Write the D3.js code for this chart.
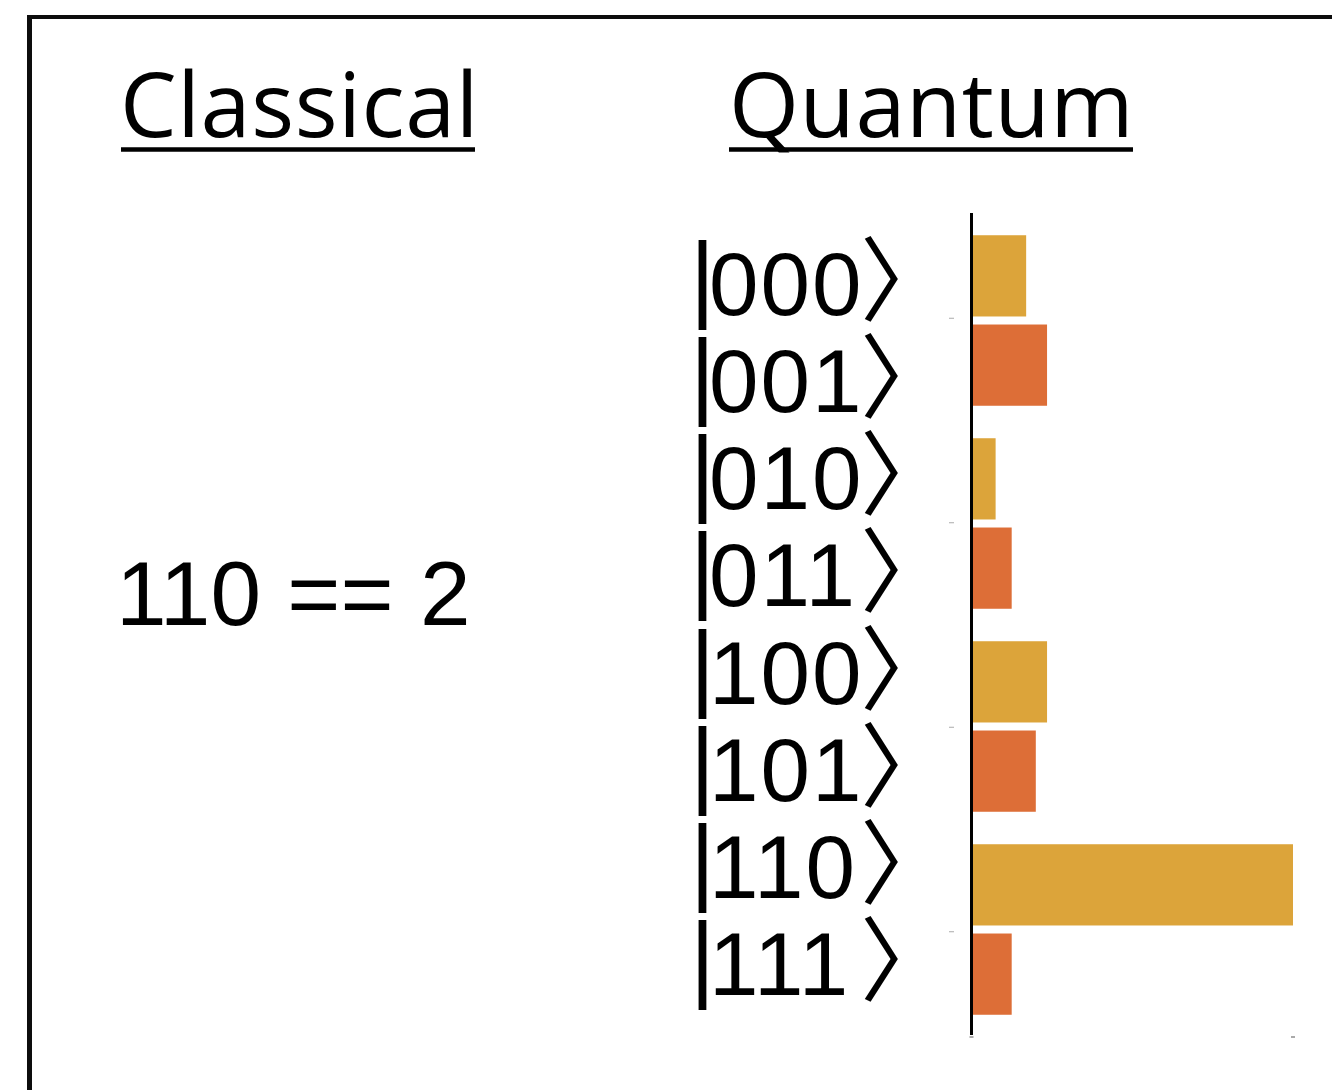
<!DOCTYPE html>
<html>
<head>
<meta charset="utf-8">
<script src="https://cdn.jsdelivr.net/npm/d3@7"></script>
<style>
  html, body { margin: 0; padding: 0; background: #fff; }
  svg { display: block; }
</style>
</head>
<body>
<svg id="chart" width="1332" height="1090"></svg>
<script>
// Basis states of a 3-qubit register and their (relative) amplitudes
const states = ["000", "001", "010", "011", "100", "101", "110", "111"];
const amplitudes = [0.17, 0.235, 0.075, 0.125, 0.235, 0.2, 1.0, 0.125];

// States are grouped by their first two bits; the last bit picks the colour
const groups = ["00", "01", "10", "11"];
const lastBits = ["0", "1"];
const bitColors = ["#dca43a", "#dd6e37"];

// Amplitude axis ticks
const xTicks = [0, 1];

// Text
const headings = ["Classical", "Quantum"];
const classicalValue = "110 == 2";

const svg = d3.select("#chart");

// ---- frame ----
svg.append("rect").attr("x", 27).attr("y", 15).attr("width", 5).attr("height", 1075).attr("fill", "#0d0d0d");
svg.append("rect").attr("x", 27).attr("y", 15).attr("width", 1305).attr("height", 4).attr("fill", "#0d0d0d");

// ---- headings (underlined) ----
const headingPos = [
  { x: 120, x0: 121, x1: 475 },
  { x: 729, x0: 729, x1: 1133 }
];
headings.forEach((h, i) => {
  svg.append("text")
    .attr("x", headingPos[i].x)
    .attr("y", 137)
    .style("font-family", "'Open Sans', 'Noto Sans', sans-serif")
    .style("font-size", "90px")
    .style("letter-spacing", "0.6px")
    .attr("fill", "#000")
    .text(h);
  svg.append("line")
    .attr("x1", headingPos[i].x0).attr("x2", headingPos[i].x1)
    .attr("y1", 149.5).attr("y2", 149.5)
    .attr("stroke", "#000").attr("stroke-width", 4.5);
});

// ---- classical value ----
svg.append("text")
  .attr("x", 116)
  .attr("y", 625)
  .style("font-family", "'Liberation Sans', Arial, sans-serif")
  .style("font-size", "91px")
  .style("word-spacing", "1px")
  .attr("fill", "#000")
  .text(classicalValue);

// ---- scales ----
const x = d3.scaleLinear().domain([0, 1]).range([971.5, 1293]);

const yGroup = d3.scaleBand().domain(groups).range([219, 1031])
  .paddingInner(0.16).paddingOuter(0.08);
const yBit = d3.scaleBand().domain(lastBits).range([0, yGroup.bandwidth()])
  .paddingInner(0.09);
const yTick = d3.scaleBand().domain(groups).range([216, 1034]);
const yLabel = d3.scalePoint().domain(states).range([283, 963]);

const color = d3.scaleOrdinal().domain(lastBits).range(bitColors);

const rows = states.map((s, i) => ({
  state: s,
  group: s.slice(0, 2),
  bit: s.slice(2),
  value: amplitudes[i]
}));

// ---- bars ----
svg.append("g")
  .selectAll("rect")
  .data(rows)
  .join("rect")
  .attr("x", x(0))
  .attr("y", d => yGroup(d.group) + yBit(d.bit))
  .attr("width", d => x(d.value) - x(0))
  .attr("height", yBit.bandwidth())
  .attr("fill", d => color(d.bit));

// ---- group ticks (faint) ----
svg.append("g")
  .selectAll("line")
  .data(groups)
  .join("line")
  .attr("x1", 949).attr("x2", 954)
  .attr("y1", d => yTick(d) + yTick.bandwidth() / 2)
  .attr("y2", d => yTick(d) + yTick.bandwidth() / 2)
  .attr("stroke", "#aaa").attr("stroke-width", 1);

// ---- amplitude axis ticks (faint) ----
svg.append("g")
  .selectAll("line")
  .data(xTicks)
  .join("line")
  .attr("x1", d => x(d) - 2).attr("x2", d => x(d) + 2)
  .attr("y1", 1037).attr("y2", 1037)
  .attr("stroke", "#aaa").attr("stroke-width", 2);

// ---- vertical axis line ----
svg.append("line")
  .attr("x1", 971.5).attr("x2", 971.5)
  .attr("y1", 213).attr("y2", 1035)
  .attr("stroke", "#000").attr("stroke-width", 3);

// ---- ket labels |bbb⟩ ----
const kets = svg.append("g")
  .selectAll("text")
  .data(states)
  .join("text")
  .attr("transform", d => `translate(0,${yLabel(d)})`)
  .attr("fill", "#000");

kets.append("tspan")
  .attr("x", 690)
  .attr("y", 27)
  .style("font-family", "'Liberation Sans', Arial, sans-serif")
  .style("font-size", "96px")
  .text("|");

kets.append("tspan")
  .attr("x", 709)
  .attr("y", 32)
  .style("font-family", "'Liberation Sans', Arial, sans-serif")
  .style("font-size", "89px")
  .style("letter-spacing", "2px")
  .text(d => d);

kets.append("tspan")
  .attr("x", 860)
  .attr("y", 31)
  .style("font-family", "'Noto Sans CJK JP', sans-serif")
  .style("font-size", "92px")
  .style("letter-spacing", "0px")
  .text("\u3009");
</script>
</body>
</html>
